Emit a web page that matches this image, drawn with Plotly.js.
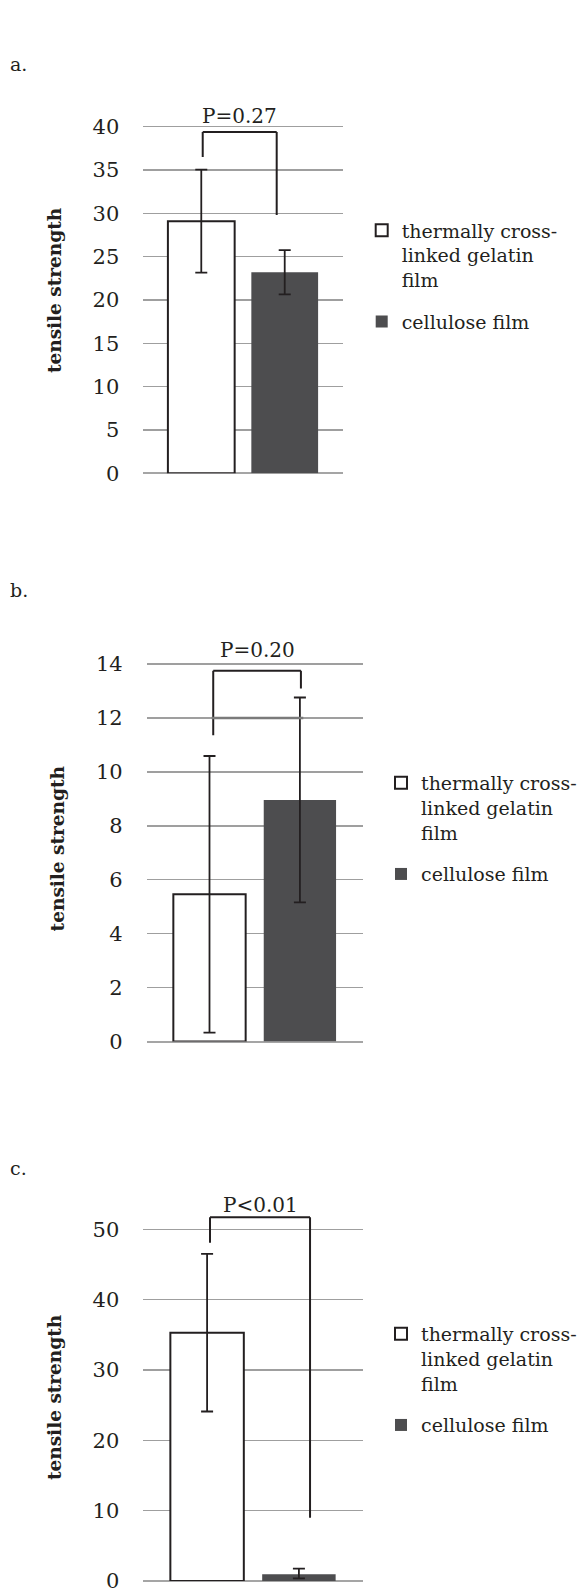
<!DOCTYPE html>
<html>
<head>
<meta charset="utf-8">
<script src="https://cdn.plot.ly/plotly-3.0.1.min.js"></script>
<style>
html,body{margin:0;padding:0;background:#fff;}
#chart{width:582px;height:1589px;}
</style>
</head>
<body>
<div id="chart"></div>
<script>
// ---------------- data ----------------
const category = ['tensile strength test'];
const seriesNames = ['thermally cross-<br>linked gelatin<br>film', 'cellulose film'];
const panelLabels = ['a.', 'b.', 'c.'];
const yTitle = 'tensile strength';
const gelatinMeans = [29.1, 5.46, 35.3];
const gelatinErr = [5.95, 5.13, 11.2];
const celluloseMeans = [23.2, 8.96, 0.95];
const celluloseErrPlus = [2.55, 3.8, 0.8];
const celluloseErrMinus = [2.55, 3.8, 0.57];
const pTexts = ['P=0.27', 'P=0.20', 'P<0.01'];
const bracketTop = [39.4, 13.75, 51.7];
const bracketLeftEnd = [36.5, 11.36, 48.1];
const bracketRightEnd = [29.8, 13.09, 9.0];
const yTickStep = [5, 2, 10];
const yTickMax = [40, 14, 50];

// ---------------- layout geometry (pixels) ----------------
const W = 582, H = 1589;
const panels = [
  {left: 143.3, right: 342.7, zero: 473.3, unit: 8.665, yMax: 42.2,
   bLeftX: -0.202, bRightX: 0.169, pPix: 116, label: [8, 64],
   legend: [401.7, 230.5]},
  {left: 146.7, right: 362.7, zero: 1041.5, unit: 26.96, yMax: 14.3,
   bLeftX: -0.192, bRightX: 0.214, pPix: 650, label: [8, 590],
   legend: [421, 783], grayLine: [-0.199, 0.225, 12]},
  {left: 143.3, right: 362.7, zero: 1581, unit: 7.034, yMax: 52.2,
   bLeftX: -0.196, bRightX: 0.26, pPix: 1205, label: [8, 1168],
   legend: [421, 1334]}
];

const FONT = 'DejaVu Serif';
const INK = '#231f20';
const DARK = '#4d4d4f';

const traces = [];
const layout = {
  width: W, height: H,
  margin: {l: 0, r: 0, t: 0, b: 0},
  paper_bgcolor: '#fff', plot_bgcolor: '#fff',
  barmode: 'group', bargap: 0.163, bargroupgap: 0.2,
  font: {family: FONT, color: INK, size: 19},
  shapes: [], annotations: [],
  showlegend: true
};

panels.forEach((p, i) => {
  const n = i === 0 ? '' : String(i + 1);
  const xa = 'x' + n, ya = 'y' + n;
  const top = p.zero - p.yMax * p.unit;
  const legName = i === 0 ? 'legend' : 'legend' + (i + 1);

  traces.push({
    type: 'bar', x: category, y: [gelatinMeans[i]], name: seriesNames[0],
    xaxis: xa, yaxis: ya, legend: legName, legendgroup: 'g' + i + 'a',
    marker: {color: '#ffffff', line: {color: INK, width: 2}},
    error_y: {type: 'data', array: [gelatinErr[i]], visible: true,
              color: INK, thickness: 1.8, width: 6},
    hoverinfo: 'skip'
  });
  traces.push({
    type: 'bar', x: category, y: [celluloseMeans[i]], name: seriesNames[1],
    xaxis: xa, yaxis: ya, legend: legName, legendgroup: 'g' + i + 'b',
    marker: {color: DARK, line: {width: 0}},
    error_y: {type: 'data', symmetric: false, array: [celluloseErrPlus[i]],
              arrayminus: [celluloseErrMinus[i]], visible: true,
              color: INK, thickness: 1.8, width: 6},
    hoverinfo: 'skip'
  });

  layout['xaxis' + n] = {
    domain: [p.left / W, p.right / W], anchor: ya,
    type: 'category', range: [-0.5, 0.5],
    showgrid: false, zeroline: false, showline: false,
    showticklabels: false, ticks: '', fixedrange: true
  };
  layout['yaxis' + n] = {
    domain: [(H - p.zero) / H, (H - top) / H], anchor: xa,
    range: [0, p.yMax],
    tickvals: Array.from({length: yTickMax[i] / yTickStep[i] + 1}, (_, k) => k * yTickStep[i]),
    showgrid: true, gridcolor: '#9f9f9f', gridwidth: 1.5,
    zeroline: true, zerolinecolor: '#a5a5a5', zerolinewidth: 2,
    showline: false, ticks: '', ticklabelstandoff: 23,
    ticklabeloverflow: 'allow',
    tickfont: {family: FONT, size: 21, color: INK},
    title: {text: yTitle, standoff: 26,
            font: {family: FONT, size: 18.5, color: INK, weight: 'bold'}},
    fixedrange: true
  };

  layout[legName] = {
    x: (p.legend[0] - 40) / W, xanchor: 'left',
    y: (H - (p.legend[1] - 19)) / H, yanchor: 'top',
    valign: 'top', traceorder: 'grouped', tracegroupgap: 14,
    bgcolor: 'rgba(0,0,0,0)', borderwidth: 0,
    font: {family: FONT, size: 19, color: INK}
  };

  // significance bracket
  const lineStyle = {color: INK, width: 2};
  layout.shapes.push(
    {type: 'line', xref: xa, yref: ya, x0: p.bLeftX, x1: p.bLeftX,
     y0: bracketLeftEnd[i], y1: bracketTop[i], line: lineStyle},
    {type: 'line', xref: xa, yref: ya, x0: p.bLeftX, x1: p.bRightX,
     y0: bracketTop[i], y1: bracketTop[i], line: lineStyle},
    {type: 'line', xref: xa, yref: ya, x0: p.bRightX, x1: p.bRightX,
     y0: bracketTop[i], y1: bracketRightEnd[i], line: lineStyle}
  );
  if (p.grayLine) {
    layout.shapes.push({type: 'line', xref: xa, yref: ya,
      x0: p.grayLine[0], x1: p.grayLine[1], y0: p.grayLine[2], y1: p.grayLine[2],
      line: {color: '#7a7a7a', width: 2.5}, layer: 'above'});
  }
  layout.annotations.push({
    xref: xa, yref: 'paper', x: (p.bLeftX + p.bRightX) / 2, y: (H - p.pPix) / H,
    text: pTexts[i], showarrow: false, xanchor: 'center', yanchor: 'middle',
    font: {family: FONT, size: 20, color: INK}
  });
  layout.annotations.push({
    xref: 'paper', yref: 'paper', x: p.label[0] / W, y: (H - p.label[1]) / H,
    text: panelLabels[i], showarrow: false, xanchor: 'left', yanchor: 'middle',
    font: {family: FONT, size: 19, color: INK}
  });
});

Plotly.newPlot('chart', traces, layout, {displayModeBar: false, staticPlot: true});
</script>
</body>
</html>
